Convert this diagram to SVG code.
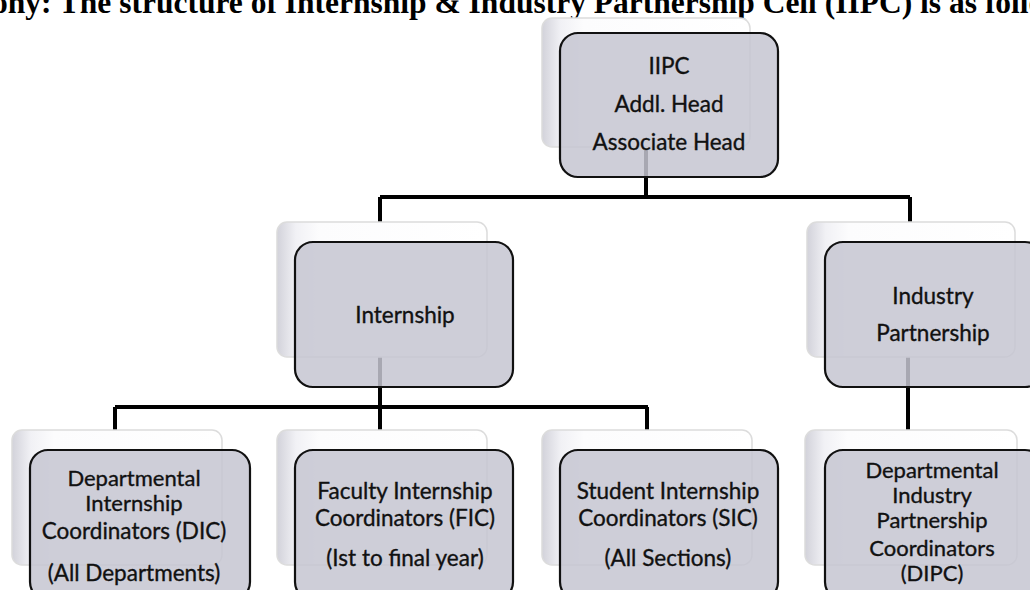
<svg xmlns="http://www.w3.org/2000/svg" width="1030" height="590" viewBox="0 0 1030 590">
  <defs>
    <linearGradient id="cardBevel" x1="0" y1="0" x2="1" y2="0">
      <stop offset="0" stop-color="#d2d2da"/>
      <stop offset="0.09" stop-color="#f1f1f5"/>
      <stop offset="0.2" stop-color="#fcfcfd"/>
      <stop offset="1" stop-color="#ffffff"/>
    </linearGradient>
    <style>
      .title { font-family: "Liberation Serif", "Times New Roman", serif; font-weight: bold; font-size: 31.5px; fill: #000; }
      .card { fill: url(#cardBevel); stroke: #dcdcdc; stroke-width: 1.5; }
      .box { fill: #c6c6d1; fill-opacity: 0.85; stroke: #111; stroke-width: 2.2; }
      .label { font-family: Lato, "Open Sans", "Liberation Sans", sans-serif; font-size: 22.5px; fill: #111; stroke: #111; stroke-width: 0.35; text-anchor: middle; }
      .tight { font-size: 22px; }
      .wire { fill: none; stroke: #000; stroke-width: 4; stroke-linejoin: miter; }
    </style>
  </defs>

  <rect width="1030" height="590" fill="#ffffff"/>

  <!-- heading line, partly above the top edge -->
  <text class="title" x="-8" y="13">ony: The structure of Internship &amp; Industry Partnership Cell (IIPC) is as follows:</text>

  <!-- connectors -->
  <g id="connectors">
    <path class="wire" d="M646,150 V197 M380,197 H910 M380,197 V222 M910,197 V222"/>
    <path class="wire" d="M380,357 V407 M115,407 H648 M115,407 V430 M380,407 V430 M647,407 V430"/>
    <path class="wire" d="M908,357 V430"/>
  </g>

  <!-- IIPC -->
  <g id="iipc">
    <rect class="card" x="542" y="18" width="208" height="129" rx="10"/>
    <rect class="box" x="560" y="33" width="218" height="144" rx="18"/>
    <text class="label" x="669" y="74">IIPC</text>
    <text class="label" x="669" y="112">Addl. Head</text>
    <text class="label" x="669" y="150">Associate Head</text>
  </g>

  <!-- Internship -->
  <g id="internship">
    <rect class="card" x="277" y="222" width="210" height="135" rx="10"/>
    <rect class="box" x="295" y="242" width="218" height="145" rx="18"/>
    <text class="label" x="405" y="323">Internship</text>
  </g>

  <!-- Industry Partnership -->
  <g id="industry">
    <rect class="card" x="807" y="222" width="208" height="135" rx="10"/>
    <rect class="box" x="825" y="242" width="218" height="145" rx="18"/>
    <text class="label" x="933" y="304">Industry</text>
    <text class="label" x="933" y="341">Partnership</text>
  </g>

  <!-- DIC -->
  <g id="dic">
    <rect class="card" x="12" y="430" width="210" height="135" rx="10"/>
    <rect class="box" x="30" y="450" width="220" height="150" rx="18"/>
    <text class="label tight" x="134" y="486">Departmental</text>
    <text class="label tight" x="134" y="511">Internship</text>
    <text class="label" x="134" y="539">Coordinators (DIC)</text>
    <text class="label" x="134" y="581">(All Departments)</text>
  </g>

  <!-- FIC -->
  <g id="fic">
    <rect class="card" x="277" y="430" width="210" height="135" rx="10"/>
    <rect class="box" x="295" y="450" width="218" height="150" rx="18"/>
    <text class="label" x="405" y="499">Faculty Internship</text>
    <text class="label" x="405" y="526">Coordinators (FIC)</text>
    <text class="label" x="405" y="566">(Ist to final year)</text>
  </g>

  <!-- SIC -->
  <g id="sic">
    <rect class="card" x="542" y="430" width="210" height="135" rx="10"/>
    <rect class="box" x="560" y="450" width="218" height="150" rx="18"/>
    <text class="label" x="668" y="499">Student Internship</text>
    <text class="label" x="668" y="526">Coordinators (SIC)</text>
    <text class="label" x="668" y="566">(All Sections)</text>
  </g>

  <!-- DIPC -->
  <g id="dipc">
    <rect class="card" x="805" y="430" width="212" height="135" rx="10"/>
    <rect class="box" x="825" y="450" width="218" height="150" rx="18"/>
    <text class="label tight" x="932" y="478">Departmental</text>
    <text class="label tight" x="932" y="503">Industry</text>
    <text class="label tight" x="932" y="528">Partnership</text>
    <text class="label tight" x="932" y="556">Coordinators</text>
    <text class="label tight" x="932" y="581">(DIPC)</text>
  </g>
</svg>
